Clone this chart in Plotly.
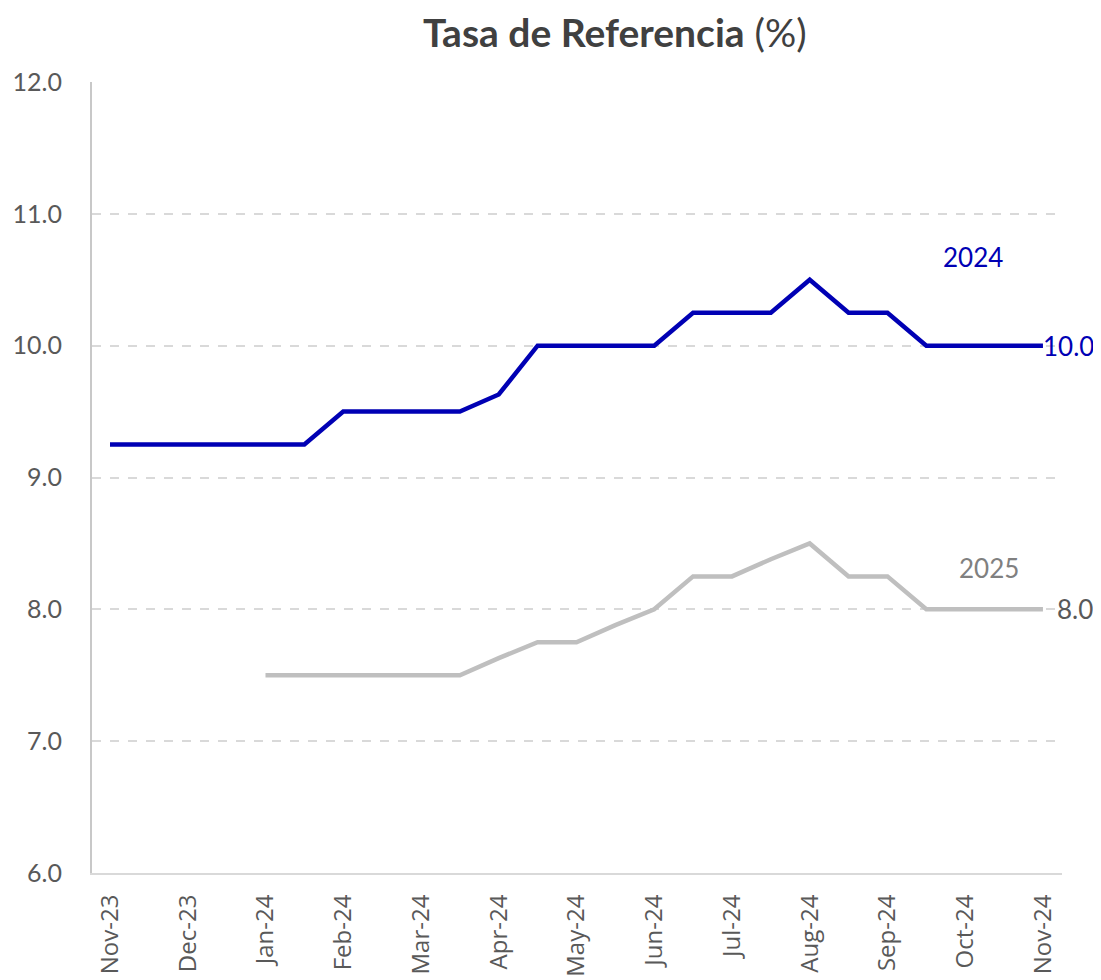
import plotly.graph_objects as go

month_labels = ["Nov-23", "Dec-23", "Jan-24", "Feb-24", "Mar-24", "Apr-24", "May-24",
                "Jun-24", "Jul-24", "Aug-24", "Sep-24", "Oct-24", "Nov-24"]
# semi-monthly observation index (0..24), labels on every other point
period_index = list(range(25))
rate_2024 = [9.25, 9.25, 9.25, 9.25, 9.25, 9.25, 9.5, 9.5, 9.5, 9.5, 9.63, 10.0, 10.0,
             10.0, 10.0, 10.25, 10.25, 10.25, 10.5, 10.25, 10.25, 10.0, 10.0, 10.0, 10.0]
rate_2025 = [None, None, None, None, 7.5, 7.5, 7.5, 7.5, 7.5, 7.5, 7.63, 7.75, 7.75,
             7.88, 8.0, 8.25, 8.25, 8.38, 8.5, 8.25, 8.25, 8.0, 8.0, 8.0, 8.0]
y_ticks = [6, 7, 8, 9, 10, 11, 12]

BLUE = "#0000B4"
GRAY = "#BFBFBF"
TXT = "#595959"
body_font = "Lato, 'Open Sans', sans-serif"

fig = go.Figure()
fig.add_trace(go.Scatter(x=period_index, y=rate_2025, mode="lines",
                         line=dict(color=GRAY, width=4.5), connectgaps=False,
                         showlegend=False, hoverinfo="skip"))
fig.add_trace(go.Scatter(x=period_index, y=rate_2024, mode="lines",
                         line=dict(color=BLUE, width=4.5),
                         showlegend=False, hoverinfo="skip"))

fig.add_annotation(x=22.2, y=10.67, text="2024", showarrow=False,
                   font=dict(color=BLUE, size=26, family=body_font))
fig.add_annotation(x=22.6, y=8.31, text="2025", showarrow=False,
                   font=dict(color="#808080", size=26, family=body_font))
fig.add_annotation(x=period_index[-1], y=rate_2024[-1], text=f"{rate_2024[-1]:.1f}",
                   showarrow=False, xanchor="left", xshift=-2,
                   font=dict(color=BLUE, size=26, family=body_font))
fig.add_annotation(x=period_index[-1], y=rate_2025[-1], text=f"{rate_2025[-1]:.1f}",
                   showarrow=False, xanchor="left", xshift=12,
                   font=dict(color=TXT, size=26, family=body_font))

fig.add_annotation(xref="paper", yref="paper", x=0.539, y=1.0, yshift=50,
                   text="<b>Tasa de Referencia</b> (%)", showarrow=False,
                   xanchor="center", yanchor="middle", borderpad=0,
                   font=dict(color="#404040", size=39, family=body_font))

fig.update_layout(
    width=1093, height=972,
    margin=dict(l=84, r=39, t=74, b=107, autoexpand=False),
    plot_bgcolor="white", paper_bgcolor="white",
    xaxis=dict(range=[-0.463, 24.49], tickmode="array",
               tickvals=period_index[::2], ticktext=month_labels,
               tickangle=-90, showgrid=False, zeroline=False, automargin=False,
               showline=True, linecolor="#D9D9D9", linewidth=2,
               ticks="", ticklabelstandoff=10,
               tickfont=dict(family="Open Sans", size=24, color=TXT)),
    yaxis=dict(range=[6, 12], tickmode="array", tickvals=y_ticks,
               ticktext=[f"{v:.1f}" for v in y_ticks], automargin=False,
               showgrid=True, gridcolor="#D9D9D9", griddash="dash", gridwidth=1.5,
               zeroline=False, showline=True, linecolor="#C8C8C8", linewidth=2,
               ticks="", ticklabelstandoff=23,
               tickfont=dict(family=body_font, size=25, color=TXT)),
)

fig.write_html("out.html")
